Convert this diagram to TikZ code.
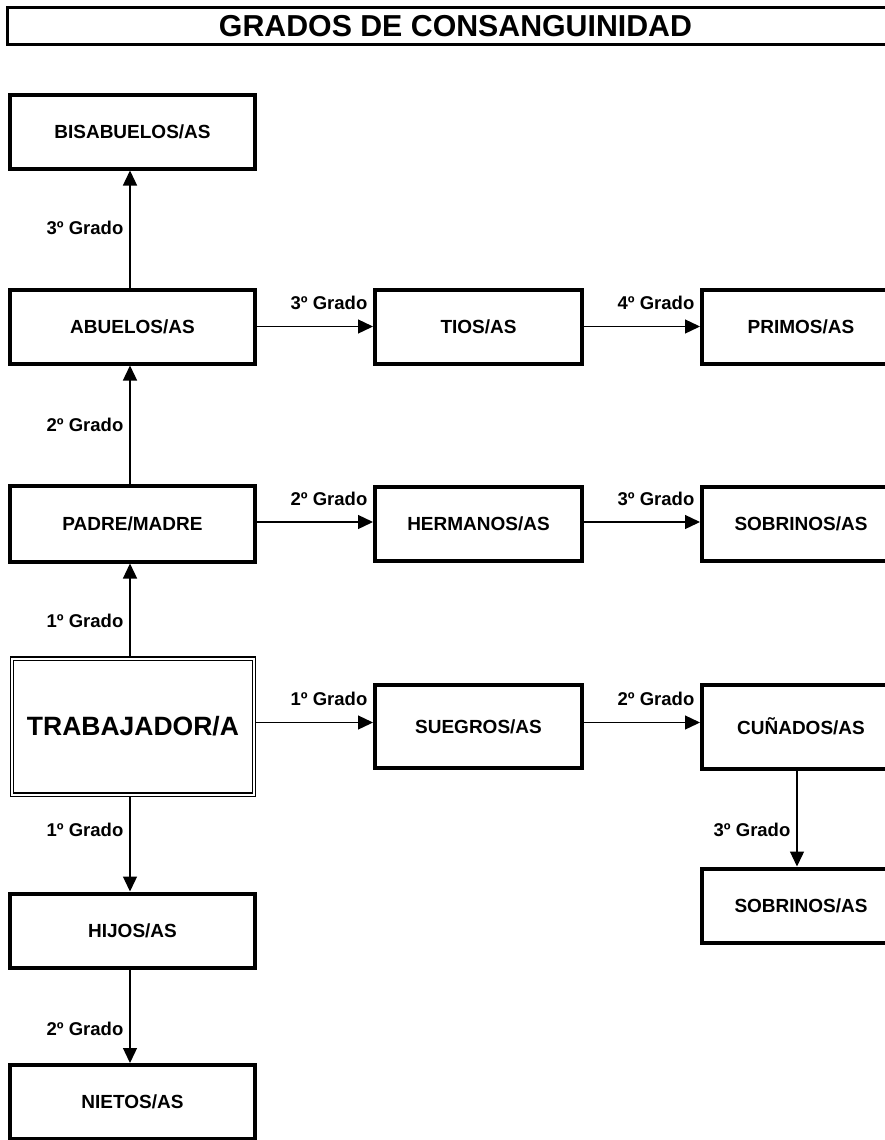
\documentclass[tikz,border=0pt]{standalone}
\usepackage{fontspec}
\setmainfont{Liberation Sans}
\usetikzlibrary{arrows.meta}
\begin{document}
\begin{tikzpicture}[x=1pt,y=-1pt,
  box/.style={draw, line width=4pt, rectangle, inner sep=0pt, align=center,
    font=\fontsize{19}{22}\selectfont\bfseries},
  c1/.style={box, minimum width=245pt, minimum height=74pt},
  c2/.style={box, minimum width=207pt, minimum height=74pt},
  c3/.style={box, anchor=west, minimum width=198pt, minimum height=74pt},
  trabbox/.style={draw, double, double distance=2pt, line width=1.3pt, outer sep=2.3pt,
    minimum width=242pt, minimum height=136pt, inner sep=0pt,
    font=\fontsize{26.5}{30}\selectfont\bfseries},
  titlebox/.style={draw, line width=3pt, anchor=west, minimum width=896pt, minimum height=37pt,
    inner sep=0pt, font=\fontsize{30.3}{34}\selectfont\bfseries},
  conn/.style={line width=1.3pt, -{Triangle[length=15pt,width=14pt]}},
  lab/.style={font=\fontsize{18.5}{22}\selectfont\bfseries, inner sep=0pt},
  vlab/.style={lab, anchor=east, xshift=-6pt},
  hlab/.style={lab, pos=1, anchor=base east, xshift=-5pt, yshift=17pt}
]
\useasboundingbox (0,0) rectangle (885,1140);
\clip (0,0) rectangle (885,1140);

\node[titlebox] (title) at (6,26) {GRADOS DE CONSANGUINIDAD};

\node[c1] (bis) at (132.5,131.5) {BISABUELOS/AS};
\node[c1] (abu) at (132.5,326.5) {ABUELOS/AS};
\node[c1, minimum height=76pt] (pad) at (132.5,523.5) {PADRE/MADRE};
\node[trabbox] (trab) at (133,726.5) {TRABAJADOR/A};
\node[c1] (hij) at (132.5,930.5) {HIJOS/AS};
\node[c1] (nie) at (132.5,1102) {NIETOS/AS};

\node[c2] (tios) at (478.5,326.5) {TIOS/AS};
\node[c2] (her) at (478.5,523.5) {HERMANOS/AS};
\node[c2, minimum height=83pt] (sue) at (478.5,726.5) {SUEGROS/AS};

\node[c3] (pri) at (700,326.5) {PRIMOS/AS};
\node[c3] (sob1) at (700,523.5) {SOBRINOS/AS};
\node[c3, minimum height=84pt] (cun) at (700,726.5) {CUÑADOS/AS};
\node[c3] (sob2) at (700,905.5) {SOBRINOS/AS};

% vertical connectors, column 1
\draw[conn] ([xshift=-2.5pt]abu.north) -- node[vlab, pos=.51] {3º Grado} ([xshift=-2.5pt]bis.south);
\draw[conn] ([xshift=-2.5pt]pad.north) -- node[vlab, pos=.5] {2º Grado} ([xshift=-2.5pt]abu.south);
\draw[conn] ([xshift=-3pt]trab.north) -- node[vlab, pos=.383] {1º Grado} ([xshift=-2.5pt]pad.south);
\draw[conn] ([xshift=-3pt]trab.south) -- node[vlab, pos=.35] {1º Grado} ([xshift=-2.5pt]hij.north);
\draw[conn] ([xshift=-2.5pt]hij.south) -- node[vlab, pos=.633] {2º Grado} ([xshift=-2.5pt]nie.north);

% horizontal connectors
\draw[conn] (abu.east) -- node[hlab] {3º Grado} (tios.west);
\draw[conn] (tios.east) -- node[hlab] {4º Grado} (pri.west);
\draw[conn] ([yshift=1.5pt]pad.east) -- node[hlab] {2º Grado} ([yshift=1.5pt]her.west);
\draw[conn] ([yshift=1.5pt]her.east) -- node[hlab] {3º Grado} ([yshift=1.5pt]sob1.west);
\draw[conn] ([yshift=4pt]trab.east) -- node[hlab] {1º Grado} ([yshift=4pt]sue.west);
\draw[conn] ([yshift=4pt]sue.east) -- node[hlab] {2º Grado} ([yshift=4pt]cun.west);

% cuñados -> sobrinos
\draw[conn] ([xshift=-4pt]cun.south) -- node[vlab, pos=.616] {3º Grado} ([xshift=-4pt]sob2.north);
\end{tikzpicture}
\end{document}
